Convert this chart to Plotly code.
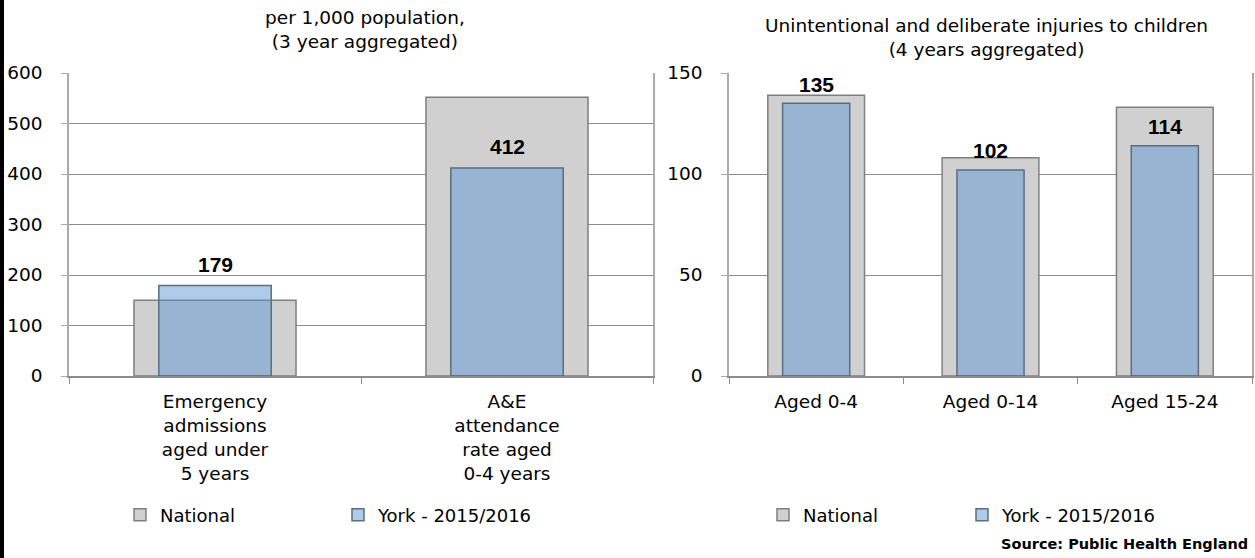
import plotly.graph_objects as go

# ---- data ----
left_categories = ["Emergency<br>admissions<br>aged under<br>5 years",
                   "A&E<br>attendance<br>rate aged<br>0-4 years"]
left_national = [150, 552]
left_york = [179, 412]

right_categories = ["Aged 0-4", "Aged 0-14", "Aged 15-24"]
right_national = [139, 108, 133]
right_york = [135, 102, 114]

left_ticks = [0, 100, 200, 300, 400, 500, 600]
right_ticks = [0, 50, 100, 150]

W, H = 1255, 558
FONT = "DejaVu Sans, Verdana, sans-serif"
BOLD_FONT = "Liberation Sans, Arial, sans-serif"
TXT = 18.5
GRAY_FILL = "#d0d0d0"
GRAY_LINE = "#7f7f7f"
BLUE_FILL = "rgba(95,151,213,0.5)"
BLUE_LINE = "#5d6c7c"
GRID = "#8c8c8c"
BORDER = "#ababab"


def px(x):
    return x / W


def py(y):
    return 1 - y / H


fig = go.Figure()

fig.add_trace(go.Bar(x=left_categories, y=left_national, name="National", width=0.555,
                     marker=dict(color=GRAY_FILL, line=dict(color=GRAY_LINE, width=1.5)),
                     xaxis="x", yaxis="y", legend="legend"))
fig.add_trace(go.Bar(x=left_categories, y=left_york, name="York - 2015/2016", width=0.385,
                     marker=dict(color=BLUE_FILL, line=dict(color=BLUE_LINE, width=1.5)),
                     xaxis="x", yaxis="y", legend="legend"))
fig.add_trace(go.Bar(x=right_categories, y=right_national, name="National", width=0.555,
                     marker=dict(color=GRAY_FILL, line=dict(color=GRAY_LINE, width=1.5)),
                     xaxis="x2", yaxis="y2", legend="legend2"))
fig.add_trace(go.Bar(x=right_categories, y=right_york, name="York - 2015/2016", width=0.385,
                     marker=dict(color=BLUE_FILL, line=dict(color=BLUE_LINE, width=1.5)),
                     xaxis="x2", yaxis="y2", legend="legend2"))

annotations = []
for cat, v in zip(left_categories, left_york):
    annotations.append(dict(x=cat, y=v, xref="x", yref="y", text=f"<b>{v}</b>",
                            showarrow=False, yanchor="middle", yshift=21,
                            font=dict(size=21, color="black", family=BOLD_FONT)))
for cat, v in zip(right_categories, right_york):
    annotations.append(dict(x=cat, y=v, xref="x2", yref="y2", text=f"<b>{v}</b>",
                            showarrow=False, yanchor="middle", yshift=19,
                            font=dict(size=21, color="black", family=BOLD_FONT)))

annotations.append(dict(x=px(365), y=py(30), xref="paper", yref="paper",
                        text="per 1,000 population,<br>(3 year aggregated)",
                        showarrow=False, xanchor="center", yanchor="middle",
                        font=dict(size=TXT, color="black", family=FONT)))
annotations.append(dict(x=px(986), y=py(37.5), xref="paper", yref="paper",
                        text="Unintentional and deliberate injuries to children<br>(4 years aggregated)",
                        showarrow=False, xanchor="center", yanchor="middle",
                        font=dict(size=TXT, color="black", family=FONT)))
annotations.append(dict(x=px(1250), y=py(544), xref="paper", yref="paper",
                        text="<b>Source: Public Health England</b>",
                        showarrow=False, xanchor="right", yanchor="middle",
                        font=dict(size=14.5, color="black", family=FONT)))

shapes = [dict(type="rect", xref="paper", yref="paper", x0=0, x1=px(4), y0=0, y1=1,
               fillcolor="black", line=dict(width=0), layer="above")]

yaxis_common = dict(showgrid=True, gridcolor=GRID, gridwidth=1, showline=True,
                    linecolor=BORDER, linewidth=1.5, mirror=True, ticks="outside",
                    ticklen=6, tickcolor=BORDER, zeroline=False, automargin=False,
                    tickfont=dict(size=TXT, color="black", family=FONT),
                    ticklabelstandoff=15, fixedrange=True)
xaxis_common = dict(showline=True, linecolor=GRID, linewidth=1.5, ticks="outside",
                    tickson="boundaries", ticklen=6, tickcolor=GRID, showgrid=False,
                    automargin=False,
                    tickfont=dict(size=TXT, color="black", family=FONT),
                    ticklabelstandoff=8, fixedrange=True)

legend_common = dict(orientation="h", xanchor="left", yanchor="middle",
                     entrywidthmode="pixels", itemwidth=30,
                     font=dict(size=18, color="black", family=FONT),
                     bgcolor="rgba(0,0,0,0)")

fig.update_layout(
    width=W, height=H,
    margin=dict(l=0, r=0, t=0, b=0, autoexpand=False),
    paper_bgcolor="white", plot_bgcolor="white",
    barmode="overlay",
    font=dict(family=FONT, color="black"),
    xaxis=dict(domain=[px(69), px(653)], anchor="y", **xaxis_common),
    yaxis=dict(domain=[py(376), py(73)], anchor="x", range=[0, 600],
               tickvals=left_ticks, **yaxis_common),
    xaxis2=dict(domain=[px(729), px(1252)], anchor="y2", **xaxis_common),
    yaxis2=dict(domain=[py(376), py(73)], anchor="x2", range=[0, 150],
                tickvals=right_ticks, **yaxis_common),
    legend=dict(x=px(120), y=py(515), entrywidth=173, **legend_common),
    legend2=dict(x=px(763), y=py(515), entrywidth=154, **legend_common),
    annotations=annotations,
    shapes=shapes,
)

fig.write_html("out.html", config={"displayModeBar": False},
               post_script="document.body.style.margin='0px';document.body.style.overflow='hidden';")
